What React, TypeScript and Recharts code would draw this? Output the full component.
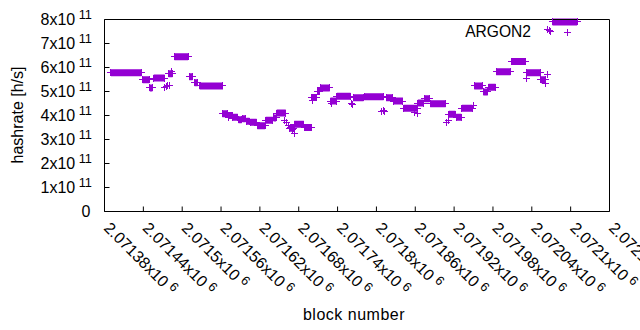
import React from 'react';
import { ComposedChart, Line, Scatter, XAxis, YAxis, Legend } from 'recharts';

const COLOR = '#9400d3';
const FONT = '"Liberation Sans", Arial, Helvetica, sans-serif';

// runs of consecutive blocks sharing the same hashrate
const runStart = [
  2071390, 2071439, 2071450, 2071456, 2071479, 2071488, 2071511, 2071519, 2071527, 2071562,
  2071571, 2071578, 2071587, 2071593, 2071599, 2071605, 2071616, 2071629, 2071641, 2071646,
  2071666, 2071673, 2071689, 2071700, 2071709, 2071713, 2071729, 2071739, 2071764, 2071781,
  2071815, 2071826, 2071842, 2071864, 2071874, 2071883, 2071912, 2071923, 2071932, 2071951,
  2071965, 2071973, 2071985, 2072008, 2072032, 2072054, 2072072,
];
const runEnd = [
  2071437, 2071449, 2071454, 2071473, 2071485, 2071509, 2071516, 2071524, 2071563, 2071570,
  2071577, 2071586, 2071592, 2071598, 2071604, 2071615, 2071628, 2071640, 2071645, 2071660,
  2071672, 2071688, 2071699, 2071708, 2071712, 2071728, 2071738, 2071760, 2071780, 2071811,
  2071825, 2071841, 2071863, 2071873, 2071882, 2071907, 2071922, 2071931, 2071948, 2071964,
  2071972, 2071984, 2072007, 2072031, 2072053, 2072061, 2072110,
];
const runValue = [
  5.78e11, 5.49e11, 5.15e11, 5.56e11, 5.74e11, 6.45e11, 5.61e11, 5.36e11, 5.23e11, 4.07e11,
  4.0e11, 3.93e11, 3.82e11, 3.86e11, 3.76e11, 3.72e11, 3.57e11, 3.8e11, 3.9e11, 4.1e11,
  3.47e11, 3.64e11, 3.5e11, 4.75e11, 5.0e11, 5.15e11, 4.6e11, 4.8e11, 4.74e11, 4.78e11,
  4.74e11, 4.6e11, 4.3e11, 4.52e11, 4.7e11, 4.49e11, 4.05e11, 3.93e11, 4.3e11, 5.23e11,
  4.98e11, 5.18e11, 5.82e11, 6.25e11, 5.78e11, 5.49e11, 7.9e11,
];

// isolated blocks
const singleBlock = [
  2071473, 2071476, 2071478, 2071480, 2071484, 2071571, 2071658, 2071661, 2071664, 2071667,
  2071670, 2071673, 2071701, 2071731, 2071761, 2071763, 2071808, 2071811, 2071813, 2071859,
  2071863, 2071909, 2071911, 2071950, 2072032, 2072061, 2072064, 2072065, 2072067, 2072069,
];
const singleValue = [
  5.15e11, 5.19e11, 5.23e11, 5.27e11, 5.82e11, 3.93e11, 3.78e11, 3.7e11, 3.6e11, 3.52e11,
  3.42e11, 3.27e11, 4.62e11, 4.5e11, 4.49e11, 4.45e11, 4.17e11, 4.2e11, 4.15e11, 4.12e11,
  4.1e11, 3.72e11, 3.8e11, 4.42e11, 5.53e11, 5.35e11, 5.7e11, 7.6e11, 7.55e11, 7.5e11,
];

const xTicks = [
  2071380, 2071440, 2071500, 2071560, 2071620, 2071680, 2071740,
  2071800, 2071860, 2071920, 2071980, 2072040, 2072100, 2072160,
];
const xTickLabels = [
  '2.07138', '2.07144', '2.0715', '2.07156', '2.07162', '2.07168', '2.07174',
  '2.0718', '2.07186', '2.07192', '2.07198', '2.07204', '2.0721', '2.07216',
];
const yTicks = [0, 1e11, 2e11, 3e11, 4e11, 5e11, 6e11, 7e11, 8e11];
const yTickLabels = ['0', '1', '2', '3', '4', '5', '6', '7', '8'];

const seriesName = 'ARGON2';

const lineData = runStart.flatMap((s, i) => [
  { b: s, v: runValue[i] },
  { b: runEnd[i], v: runValue[i] },
  { b: runEnd[i], v: null },
]);

const pointData = [
  ...runStart.map((s, i) => ({ b: s, v: runValue[i] })),
  ...runEnd.map((e, i) => ({ b: e, v: runValue[i] })),
  ...singleBlock.map((b, i) => ({ b, v: singleValue[i] })),
];

const plusPath = (x: number, y: number) =>
  `M${x - 3.5},${y}H${x + 3.5}M${x},${y - 3.5}V${y + 3.5}`;

const PlusShape = (props: any) => {
  const { cx, cy } = props;
  if (cx == null || cy == null) return <g />;
  const x = Math.round(cx - 0.5) + 0.5;
  const y = Math.round(cy - 0.5) + 0.5;
  return <path d={plusPath(x, y)} stroke={COLOR} strokeWidth={1} fill="none" />;
};

const XTick = (props: any) => {
  const { x, payload } = props;
  const idx = xTicks.indexOf(payload.value);
  const label = idx >= 0 ? xTickLabels[idx] : String(payload.value);
  const ax = x - 1.5;
  const ay = 229;
  return (
    <text
      x={ax}
      y={ay}
      transform={`rotate(45 ${ax} ${ay})`}
      textAnchor="start"
      fontFamily={FONT}
      fontSize={16}
      fill="#000"
    >
      {label}x10
      <tspan dx={4} dy={-5} fontSize={12.8}>6</tspan>
    </text>
  );
};

const YTick = (props: any) => {
  const { y, payload } = props;
  const idx = yTicks.indexOf(payload.value);
  const m = idx >= 0 ? yTickLabels[idx] : String(payload.value);
  const tx = 92;
  if (m === '0') {
    return (
      <text x={tx - 1.5} y={y + 5} textAnchor="end" fontFamily={FONT} fontSize={16} fill="#000">
        0
      </text>
    );
  }
  return (
    <text x={tx} y={y + 5} textAnchor="end" fontFamily={FONT} fontSize={16} fill="#000">
      {m}x10
      <tspan dx={3.5} dy={-5.5} fontSize={12.8}>11</tspan>
    </text>
  );
};

const Empty = () => <g />;

const LegendContent = () => (
  <svg width={130} height={22} style={{ display: 'block' }}>
    <text x={71} y={15} textAnchor="end" fontFamily={FONT} fontSize={15.6} fill="#000">
      {seriesName}
    </text>
    <path d={plusPath(107.5, 10.5)} stroke={COLOR} strokeWidth={1} fill="none" />
  </svg>
);

export default function App() {
  return (
    <div style={{ position: 'absolute', left: 0, top: 0, width: 640, height: 330, background: '#fff' }}>
      <ComposedChart width={640} height={330} margin={{ top: 0, right: 0, bottom: 0, left: 0 }}>
        <XAxis
          xAxisId="b"
          dataKey="b"
          type="number"
          domain={[2071380, 2072160]}
          ticks={xTicks}
          interval={0}
          height={118.5}
          tickSize={-5}
          tickMargin={0}
          tick={<XTick />}
          stroke="#000"
          tickLine={{ stroke: '#000' }}
          axisLine={{ stroke: '#000' }}
          label={{
            content: () => (
              <text x={354} y={320} textAnchor="middle" fontFamily={FONT} fontSize={16} letterSpacing={0.5} fill="#000">
                block number
              </text>
            ),
          }}
        />
        <XAxis
          xAxisId="t"
          dataKey="b"
          type="number"
          orientation="top"
          domain={[2071380, 2072160]}
          ticks={xTicks}
          interval={0}
          height={19.5}
          tickSize={-5}
          tick={<Empty />}
          stroke="#000"
        />
        <YAxis
          yAxisId="l"
          type="number"
          domain={[0, 8e11]}
          ticks={yTicks}
          interval={0}
          width={104.5}
          tickSize={-5}
          tickMargin={0}
          tick={<YTick />}
          stroke="#000"
          label={{
            content: () => (
              <text
                x={23}
                y={115}
                transform="rotate(-90 23 115)"
                textAnchor="middle"
                fontFamily={FONT}
                fontSize={16}
                fill="#000"
              >
                hashrate [h/s]
              </text>
            ),
          }}
        />
        <YAxis
          yAxisId="r"
          type="number"
          orientation="right"
          domain={[0, 8e11]}
          ticks={yTicks}
          interval={0}
          width={30.5}
          tickSize={-5}
          tick={<Empty />}
          stroke="#000"
        />
        <Legend
          layout="horizontal"
          verticalAlign="middle"
          align="center"
          content={<LegendContent />}
          wrapperStyle={{ position: 'absolute', left: 460, top: 22, width: 130, height: 22, margin: 0, padding: 0 }}
        />
        <Line
          xAxisId="b"
          yAxisId="l"
          data={lineData}
          dataKey="v"
          type="linear"
          stroke={COLOR}
          strokeWidth={7}
          dot={false}
          activeDot={false}
          connectNulls={false}
          isAnimationActive={false}
          legendType="none"
        />
        <Scatter
          xAxisId="b"
          yAxisId="l"
          data={pointData}
          dataKey="v"
          fill={COLOR}
          shape={<PlusShape />}
          isAnimationActive={false}
          legendType="none"
        />
      </ComposedChart>
    </div>
  );
}
